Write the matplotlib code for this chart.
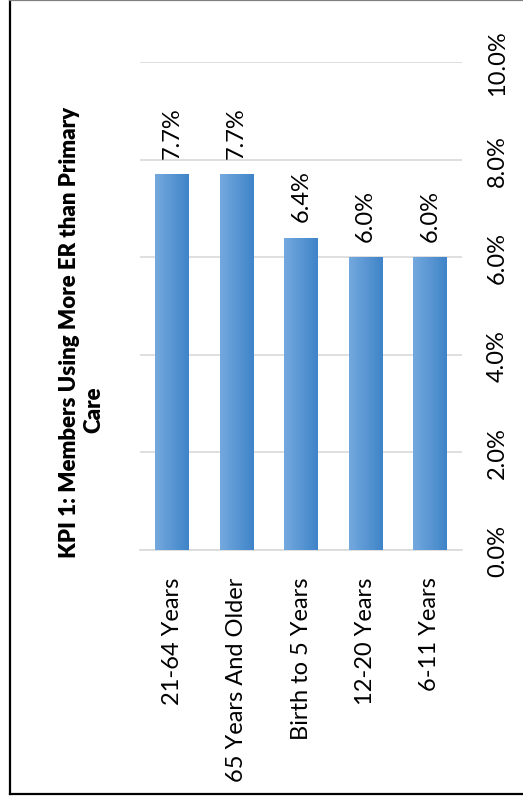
import numpy as np
import matplotlib.pyplot as plt
from matplotlib.lines import Line2D
from matplotlib.colors import LinearSegmentedColormap

plt.rcParams['font.family'] = ['Lato', 'DejaVu Sans']

# KPI 1 values by age group (percent)
categories = ["21-64 Years", "65 Years And Older", "Birth to 5 Years", "12-20 Years", "6-11 Years"]
values = [7.7, 7.7, 6.4, 6.0, 6.0]
ticks = [0, 2, 4, 6, 8, 10]
title_lines = ["KPI 1: Members Using More ER than Primary", "Care"]

W, H = 523, 803
fig = plt.figure(figsize=(W / 100, H / 100), dpi=100)

# chart frame (left/bottom dark, top grey)
fig.add_artist(Line2D([10 / W, 10 / W], [1 - 1 / H, 1 - 795 / H], color='black', lw=1.6, transform=fig.transFigure))
fig.add_artist(Line2D([10 / W, 1], [1 - 795 / H, 1 - 795 / H], color='black', lw=1.6, transform=fig.transFigure))
fig.add_artist(Line2D([10 / W, 1], [1 - 1 / H, 1 - 1 / H], color='#808080', lw=1.6, transform=fig.transFigure))

ax = fig.add_axes([140 / W, 1 - 551 / H, (462 - 140) / W, (551 - 63) / H])
x = np.arange(len(categories))
bars = ax.bar(x, values, width=0.52, color='none', zorder=3)

# horizontal gradient inside each bar
cmap = LinearSegmentedColormap.from_list('bar', ['#74A9DE', '#3F84C8'])
grad = np.linspace(0, 1, 64).reshape(1, -1)
for b in bars:
    im = ax.imshow(grad, cmap=cmap, aspect='auto', zorder=3,
                   extent=[b.get_x(), b.get_x() + b.get_width(), 0, b.get_height()])
    im.set_clip_path(b)

for xi, v in zip(x, values):
    ax.annotate(f"{v:.1f}%", (xi, v), xytext=(0, 12), textcoords='offset points',
                rotation=90, ha='center', va='bottom', fontsize=17, color='black')

ax.set_xlim(-0.5, len(categories) - 0.5)
ax.set_ylim(0, 10)
ax.set_yticks(ticks)
ax.set_yticklabels([f"{t:.1f}%" for t in ticks], rotation=90, va='center', fontsize=17)
ax.yaxis.tick_right()
ax.tick_params(axis='y', length=0, pad=18)
ax.set_xticks(x)
ax.set_xticklabels(categories, rotation=90, ha='center', va='top', fontsize=17)
ax.tick_params(axis='x', length=0, pad=19)
ax.grid(axis='y', color='#D9D9D9', lw=1.2, zorder=0)
ax.set_axisbelow(True)
for s in ['top', 'right', 'left']:
    ax.spines[s].set_visible(False)
ax.spines['bottom'].set_color('#D9D9D9')
ax.spines['bottom'].set_linewidth(1.2)

# title: wrapped line plus a second line centred on the chart frame
fig.text(70 / W, 1 - 332 / H, title_lines[0], rotation=90, ha='center', va='center',
         fontsize=16, fontweight=800)
fig.text(94 / W, 1 - 410 / H, title_lines[1], rotation=90, ha='center', va='center',
         fontsize=16, fontweight=800)

fig.savefig('out.png', dpi=100)
